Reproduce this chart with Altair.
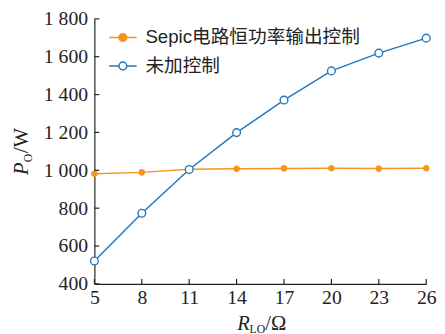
import altair as alt
import pandas as pd

R = [5, 8, 11, 14, 17, 20, 23, 26]
P_sepic = [982, 989, 1005, 1008, 1010, 1011, 1009, 1011]
P_none = [521, 773, 1004, 1199, 1371, 1525, 1619, 1698]
series = ["Sepic电路恒功率输出控制", "未加控制"]
x_ticks = [5, 8, 11, 14, 17, 20, 23, 26]
y_ticks = [400, 600, 800, 1000, 1200, 1400, 1600, 1800]
colors = ["#F7941D", "#1F78C1"]
fills = ["#F7941D", "#FFFFFF"]
sizes = [28, 62]

df = pd.DataFrame({
    "R": R + R,
    "P": P_sepic + P_none,
    "s": [series[0]] * len(R) + [series[1]] * len(R),
})

SERIF = "Liberation Serif, Times New Roman, serif"
LEGFONT = "Liberation Sans, Noto Sans CJK SC, sans-serif"
AX = "#222222"

xs = alt.Scale(domain=[5, 26], nice=False, zero=False)
ys = alt.Scale(domain=[400, 1800], nice=False, zero=False)
stroke_scale = alt.Scale(domain=series, range=colors)
fill_scale = alt.Scale(domain=series, range=fills)

sym = "M-1,0H-0.28A0.28,0.28 0 1,1 0.28,0H1M0.28,0A0.28,0.28 0 1,1 -0.28,0"
leg = alt.Legend(
    title=None, orient="none", legendX=14, legendY=4, symbolType=sym,
    symbolSize=784, symbolStrokeWidth=1.5, labelFont=LEGFONT, labelFontSize=19,
    labelColor="#222222", rowPadding=4, padding=0, labelOffset=8, labelLimit=400,
)

xaxis = alt.Axis(values=x_ticks, ticks=False, grid=False, domainColor=AX, domainWidth=1.2,
                 labelFont=SERIF, labelFontSize=20, labelColor="#222222", labelPadding=4,
                 title=None, labelFlush=False, labelOverlap=False)
yaxis = alt.Axis(values=y_ticks, ticks=False, grid=False, domainColor=AX, domainWidth=1.2,
                 labelFont=SERIF, labelFontSize=20, labelColor="#222222", labelPadding=7,
                 title=None, labelOverlap=False,
                 labelExpr="replace(format(datum.value, ','), ',', ' ')")

base = alt.Chart(df)
lines = base.mark_line(strokeWidth=1.5).encode(
    x=alt.X("R:Q", scale=xs, axis=xaxis),
    y=alt.Y("P:Q", scale=ys, axis=yaxis),
    stroke=alt.Stroke("s:N", scale=stroke_scale, legend=leg),
    detail="s:N",
)

def pts(i):
    return base.transform_filter(alt.datum.s == series[i]).mark_point(
        shape="circle", opacity=1, strokeWidth=1.4, size=sizes[i]
    ).encode(
        x=alt.X("R:Q", scale=xs, axis=xaxis), y=alt.Y("P:Q", scale=ys, axis=yaxis),
        stroke=alt.Stroke("s:N", scale=stroke_scale, legend=leg),
        fill=alt.Fill("s:N", scale=fill_scale, legend=leg),
    )

# inward ticks
ytick_df = pd.DataFrame({"v": y_ticks})
xtick_df = pd.DataFrame({"v": x_ticks})
yt = alt.Chart(ytick_df).mark_rule(color=AX, strokeWidth=1.2).encode(
    y=alt.Y("v:Q", scale=ys, axis=yaxis), x=alt.value(0), x2=alt.value(5))
xt = alt.Chart(xtick_df).mark_rule(color=AX, strokeWidth=1.2).encode(
    x=alt.X("v:Q", scale=xs, axis=xaxis), y=alt.value(270), y2=alt.value(265))

def txt(t, x, y, size, italic=False, angle=0):
    kw = dict(font=SERIF, fontSize=size, color="#222222", align="left", baseline="alphabetic")
    if italic:
        kw["fontStyle"] = "italic"
    if angle:
        kw["angle"] = angle
    return alt.Chart(pd.DataFrame({"t": [t]})).mark_text(**kw).encode(
        text="t:N", x=alt.value(x), y=alt.value(y))

titles = [
    txt("R", 145.5, 317, 21, italic=True),
    txt("LO", 158, 320, 12),
    txt("/Ω", 174, 317, 21),
    txt("P", -67.5, 159, 21, italic=True, angle=270),
    txt("O", -63.5, 146, 12, angle=270),
    txt("/W", -67.5, 137, 21, angle=270),
]

chart = alt.layer(lines, pts(0), pts(1), yt, xt, *titles).properties(
    width=338, height=270,
    autosize=alt.AutoSizeParams(type="none"),
    padding={"left": 88, "top": 8, "right": 11, "bottom": 48},
).configure_view(stroke=None).resolve_scale(x="shared", y="shared")

chart.save("out.html", embed_options={"renderer": "svg", "actions": False})
